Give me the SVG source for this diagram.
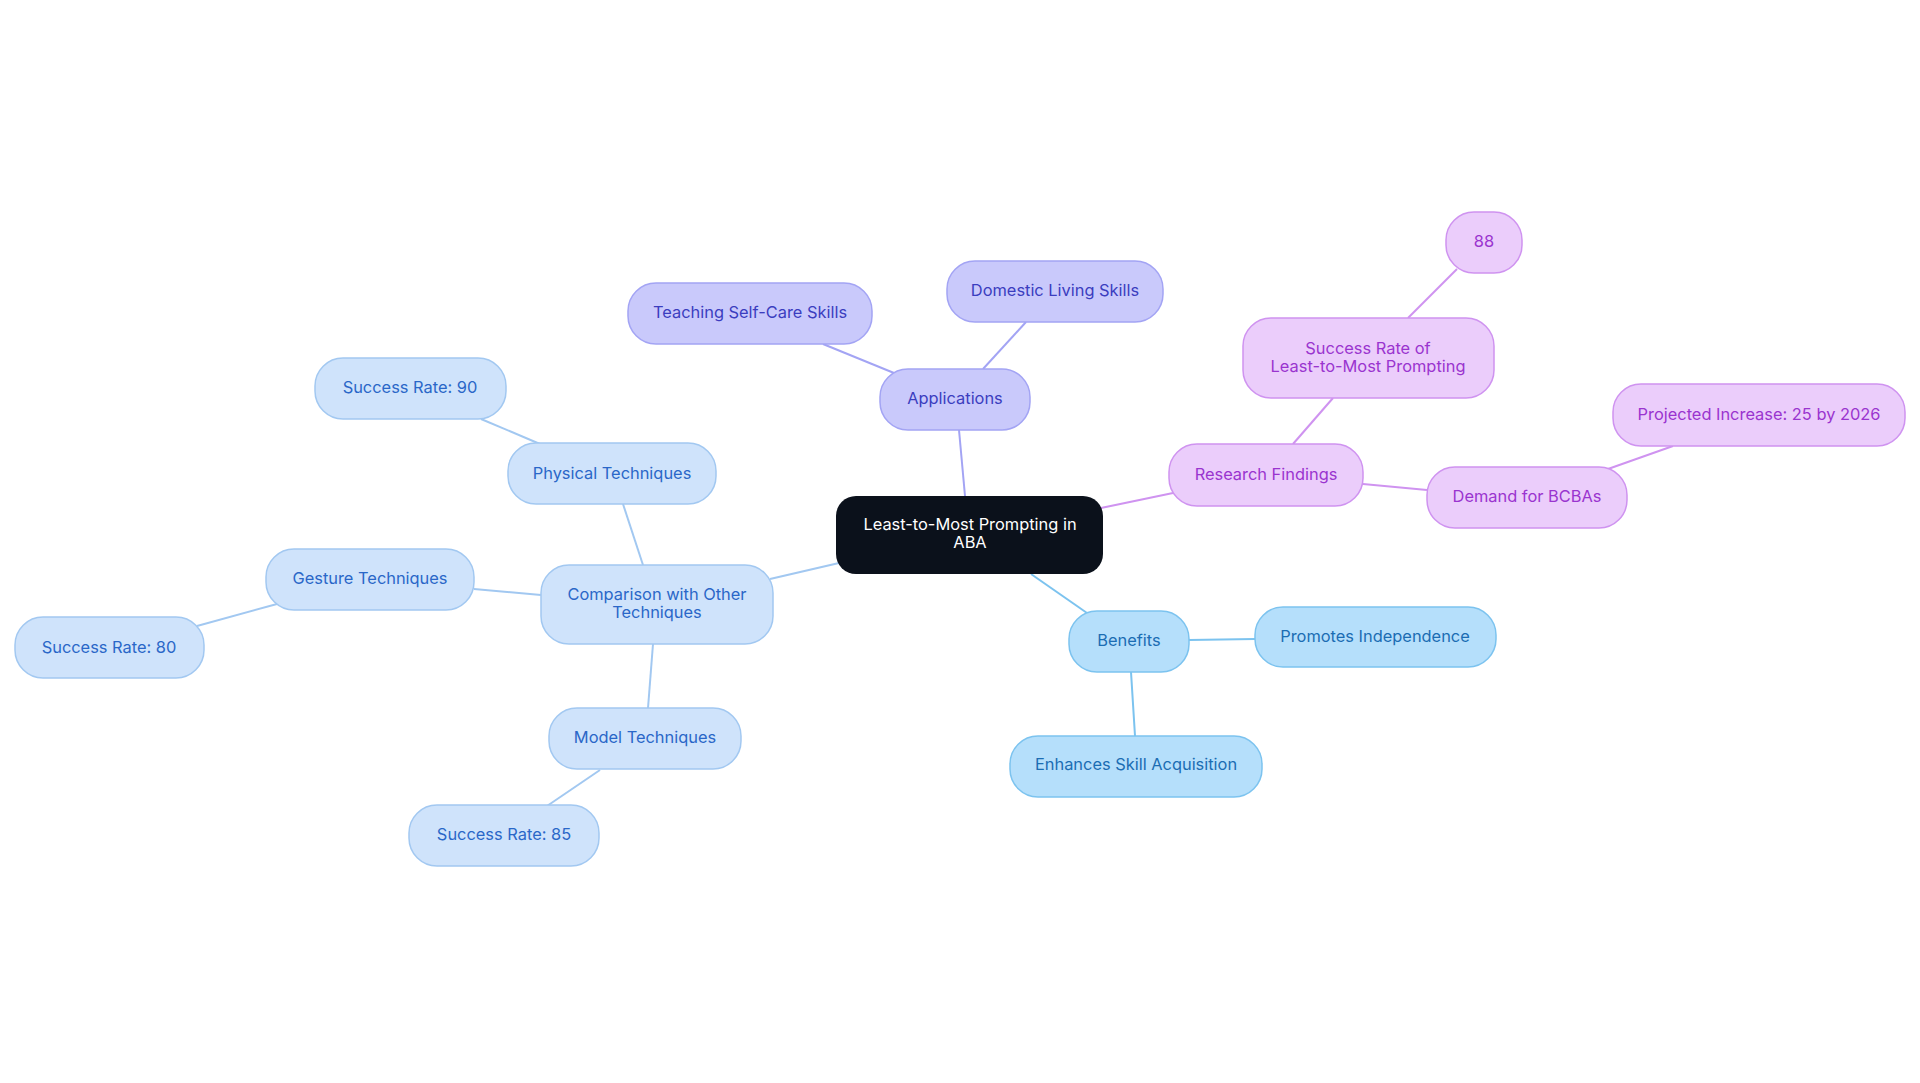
<svg xmlns="http://www.w3.org/2000/svg" width="1920" height="1083" viewBox="0 0 1920 1083">
<style>
text{font-family:Inter,"Noto Sans",sans-serif;font-size:16.4px;text-anchor:middle;dominant-baseline:central}
.a rect{fill:#c9c9fb;stroke:#a3a4f4;stroke-width:1.5}.a text{fill:#3b3dbf}
.r rect{fill:#ebcdfb;stroke:#cf93f0;stroke-width:1.5}.r text{fill:#9a34cf}
.b rect{fill:#b5dffb;stroke:#7cc3ef;stroke-width:1.5}.b text{fill:#1b6db3}
.c rect{fill:#cfe3fb;stroke:#a2c8f1;stroke-width:1.5}.c text{fill:#2a67c8}
#edges line{stroke-width:2}
</style>
<rect width="1920" height="1083" fill="#fff"/>
<g id="edges">
<line x1="965" y1="496" x2="959" y2="430" stroke="#a3a4f4"/>
<line x1="894" y1="373" x2="823" y2="344" stroke="#a3a4f4"/>
<line x1="983" y1="369" x2="1026" y2="322" stroke="#a3a4f4"/>
<line x1="1101" y1="508" x2="1173" y2="493" stroke="#cf93f0"/>
<line x1="1293" y1="444" x2="1333" y2="398" stroke="#cf93f0"/>
<line x1="1408" y1="318" x2="1457" y2="269" stroke="#cf93f0"/>
<line x1="1363" y1="484" x2="1427" y2="490" stroke="#cf93f0"/>
<line x1="1608" y1="469" x2="1673" y2="446" stroke="#cf93f0"/>
<line x1="1031" y1="574" x2="1087" y2="613" stroke="#7cc3ef"/>
<line x1="1189" y1="640" x2="1255" y2="639" stroke="#7cc3ef"/>
<line x1="1131" y1="672" x2="1135" y2="736" stroke="#7cc3ef"/>
<line x1="839" y1="563" x2="770" y2="579" stroke="#a2c8f1"/>
<line x1="643" y1="565" x2="623" y2="504" stroke="#a2c8f1"/>
<line x1="540" y1="444" x2="481" y2="419" stroke="#a2c8f1"/>
<line x1="541" y1="595" x2="474" y2="589" stroke="#a2c8f1"/>
<line x1="277" y1="604" x2="197" y2="626" stroke="#a2c8f1"/>
<line x1="653" y1="644" x2="648" y2="708" stroke="#a2c8f1"/>
<line x1="600" y1="770" x2="547" y2="806" stroke="#a2c8f1"/>
</g>
<g id="center"><rect x="836" y="496" width="267" height="78" rx="20" fill="#0b111b"/><text x="970" y="524" fill="#fff">Least-to-Most Prompting in</text><text x="970" y="542" fill="#fff">ABA</text></g>
<g id="applications" class="a"><rect x="880" y="369" width="150" height="61" rx="28"/><text x="955" y="398">Applications</text></g>
<g id="selfcare" class="a"><rect x="628" y="283" width="244" height="61" rx="28"/><text x="750" y="312">Teaching Self-Care Skills</text></g>
<g id="domestic" class="a"><rect x="947" y="261" width="216" height="61" rx="28"/><text x="1055" y="290">Domestic Living Skills</text></g>
<g id="research" class="r"><rect x="1169" y="444" width="194" height="62" rx="28"/><text x="1266" y="474">Research Findings</text></g>
<g id="successrate" class="r"><rect x="1243" y="318" width="251" height="80" rx="28"/><text x="1368" y="348">Success Rate of</text><text x="1368" y="366">Least-to-Most Prompting</text></g>
<g id="n88" class="r"><rect x="1446" y="212" width="76" height="61" rx="28"/><text x="1484" y="241">88</text></g>
<g id="demand" class="r"><rect x="1427" y="467" width="200" height="61" rx="28"/><text x="1527" y="496">Demand for BCBAs</text></g>
<g id="projected" class="r"><rect x="1613" y="384" width="292" height="62" rx="28"/><text x="1759" y="414">Projected Increase: 25 by 2026</text></g>
<g id="benefits" class="b"><rect x="1069" y="611" width="120" height="61" rx="28"/><text x="1129" y="640">Benefits</text></g>
<g id="independence" class="b"><rect x="1255" y="607" width="241" height="60" rx="28"/><text x="1375" y="636">Promotes Independence</text></g>
<g id="enhances" class="b"><rect x="1010" y="736" width="252" height="61" rx="28"/><text x="1136" y="764">Enhances Skill Acquisition</text></g>
<g id="comparison" class="c"><rect x="541" y="565" width="232" height="79" rx="28"/><text x="657" y="594">Comparison with Other</text><text x="657" y="612">Techniques</text></g>
<g id="physical" class="c"><rect x="508" y="443" width="208" height="61" rx="28"/><text x="612" y="473">Physical Techniques</text></g>
<g id="sr90" class="c"><rect x="315" y="358" width="191" height="61" rx="28"/><text x="410" y="387">Success Rate: 90</text></g>
<g id="gesture" class="c"><rect x="266" y="549" width="208" height="61" rx="28"/><text x="370" y="578">Gesture Techniques</text></g>
<g id="sr80" class="c"><rect x="15" y="617" width="189" height="61" rx="28"/><text x="109" y="647">Success Rate: 80</text></g>
<g id="model" class="c"><rect x="549" y="708" width="192" height="61" rx="28"/><text x="645" y="737">Model Techniques</text></g>
<g id="sr85" class="c"><rect x="409" y="805" width="190" height="61" rx="28"/><text x="504" y="834">Success Rate: 85</text></g>
</svg>
